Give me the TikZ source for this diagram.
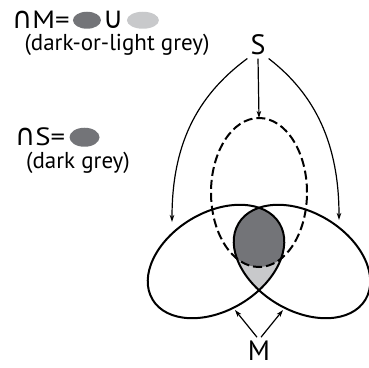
\documentclass[tikz,border=0pt]{standalone}
\usepackage{fontspec}
\setmainfont{PT Sans}
\newfontfamily\legendfont[FakeStretch=1.15]{PT Sans}
\newfontfamily\symfont{DejaVu Sans}
\usetikzlibrary{arrows.meta,positioning,shapes.geometric}
\definecolor{darkg}{RGB}{115,116,120}
\definecolor{lightg}{RGB}{200,201,203}
\newcommand{\tallsym}[1]{{\symfont\scalebox{1.1}[1.2]{#1}}}

\begin{document}
\begin{tikzpicture}[
    x=1pt, y=1pt,
    >={Stealth[length=7pt,width=4.5pt,inset=2pt]},
    lbl/.style={inner sep=0pt, font=\legendfont\fontsize{25}{27}\selectfont},
    sub/.style={inner sep=0pt, font=\fontsize{23}{25}\selectfont},
    big/.style={inner sep=3pt, font=\fontsize{28}{30}\selectfont},
    blob/.style={ellipse, inner sep=0pt, minimum width=28pt, minimum height=17pt},
    ring/.style={line width=2pt},
    dashring/.style={line width=2pt, dash pattern=on 9pt off 4pt},
    arr/.style={->, line width=1.2pt}
]
    \useasboundingbox (0,0) rectangle (369,367);
    % legend
    \node[lbl, anchor=base west] (capM) at (12,338) {\tallsym{∩}M=};
    \node[blob, fill=darkg, right=3pt of capM] (mdark) {};
    \node[lbl, right=2pt of mdark] (cupM) {\tallsym{∪}};
    \node[blob, fill=lightg, minimum width=32pt, right=3pt of cupM] (mlight) {};
    \node[sub] (mnote) at (117,322) {(dark-or-light grey)};
    \node[lbl, anchor=base west] (capS) at (15,221) {\tallsym{∩}S=};
    \node[blob, fill=darkg, minimum width=30pt, minimum height=19pt, right=4pt of capS] (sdark) {};
    \node[sub] (snote) at (78,204) {(dark grey)};
    % shaded regions
    \begin{scope}
        \clip[rotate around={31:(216,105.5)}] (216,105.5) ellipse (74 and 49);
        \clip[rotate around={-31:(302,105.5)}] (302,105.5) ellipse (74 and 49);
        \fill[lightg] (150,0) rectangle (370,250);
        \fill[darkg] (259,174.5) ellipse (48 and 74.5);
    \end{scope}
    % the three sets
    \draw[ring, rotate around={31:(216,105.5)}] (216,105.5) ellipse (74 and 49);
    \draw[ring, rotate around={-31:(302,105.5)}] (302,105.5) ellipse (74 and 49);
    \draw[dashring] (259,174.5) ellipse (48 and 74.5);
    % labels and arrows
    \node[big, anchor=base] (S) at (258,312) {S};
    \node[big, anchor=base] (M) at (259,7) {M};
    \coordinate (ltip) at (172,145);
    \coordinate (rtip) at (339,147);
    \coordinate (dtop) at (259,249);
    \coordinate (mleft) at (235,57);
    \coordinate (mright) at (283,57);
    \draw[arr] (S.south west) .. controls (195,270) and (172,220) .. (ltip);
    \draw[arr] (S.south east) .. controls (316,272) and (339,222) .. (rtip);
    \draw[arr] (S.south) -- (dtop);
    \draw[arr] ([xshift=-2pt]M.north) -- (mleft);
    \draw[arr] ([xshift=2pt]M.north) -- (mright);
\end{tikzpicture}
\end{document}
